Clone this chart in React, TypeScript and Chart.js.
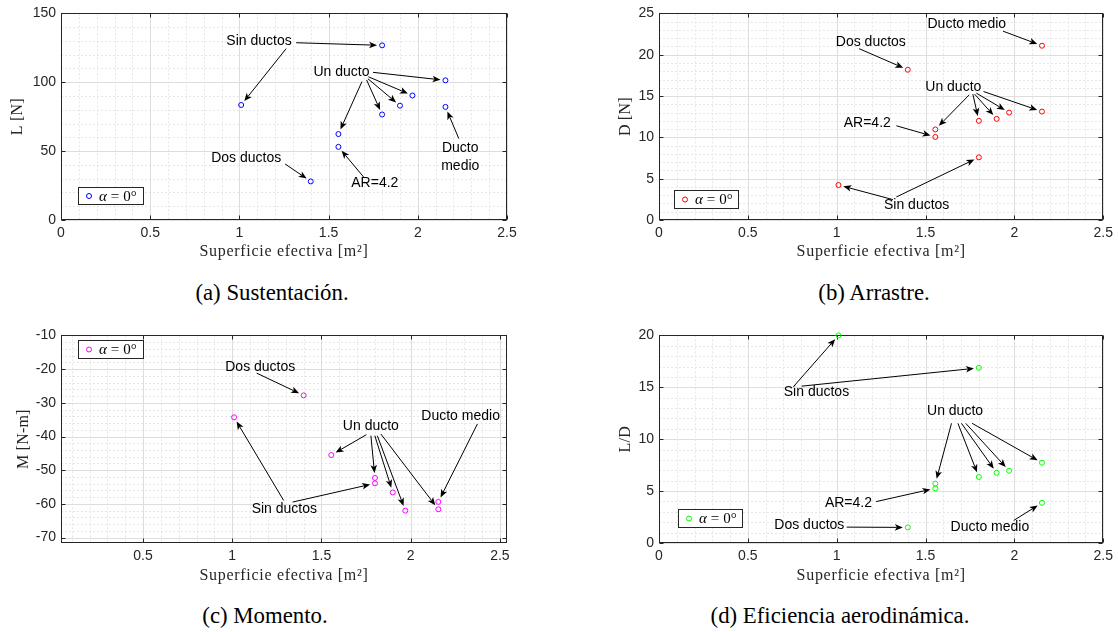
import React, { useEffect, useRef } from 'react';
import { Chart, registerables } from 'chart.js';

Chart.register(...registerables);

// Configuraciones ensayadas (alpha = 0°)
const configuracion = [
  'Sin ductos', 'Sin ductos', 'Un ducto', 'Un ducto', 'Un ducto',
  'Un ducto', 'Un ducto', 'Dos ductos', 'Ducto medio', 'AR=4.2',
];
// Superficie efectiva [m²]
const superficie = [1.01, 1.8, 1.555, 1.8, 1.9, 1.97, 2.155, 1.4, 2.155, 1.555];
// Sustentación L [N]
const sustentacion = [83.5, 126.8, 62.4, 76.6, 83.0, 90.4, 101.4, 28.0, 82.1, 53.1];
// Arrastre D [N]
const arrastre = [4.23, 7.58, 10.96, 12.0, 12.24, 13.0, 13.12, 18.18, 21.09, 10.05];
// Momento M [N-m] (sin medición para AR=4.2)
const momento = [-34.3, -53.9, -45.5, -52.3, -56.6, -62.0, -61.6, -27.8, -59.4, null];
// Eficiencia aerodinámica L/D
const eficiencia = [20.0, 16.87, 5.72, 6.36, 6.77, 6.96, 7.73, 1.5, 3.87, 5.27];

// Marcas de los ejes
const ticksX = [0, 0.5, 1, 1.5, 2, 2.5];
const ticksXMomento = [0.5, 1, 1.5, 2, 2.5];
const ticksL = [0, 50, 100, 150];
const ticksD = [0, 5, 10, 15, 20, 25];
const ticksM = [-70, -60, -50, -40, -30, -20, -10];
const ticksLD = [0, 5, 10, 15, 20];

const tituloX = 'Superficie efectiva [m²]';

type Flecha = { desde: [number, number]; punto: number };
type Nota = { texto: string[]; pos: [number, number]; flechas: Flecha[] };

// Anotaciones: texto en coordenadas de datos y flechas hacia cada punto
const notasSustentacion: Nota[] = [
  { texto: ['Sin ductos'], pos: [1.11, 129.7], flechas: [
    { desde: [1.318, 128.7], punto: 1 }, { desde: [1.262, 124.4], punto: 0 } ] },
  { texto: ['Un ducto'], pos: [1.572, 107.7], flechas: [
    { desde: [1.749, 107.2], punto: 6 }, { desde: [1.723, 104.0], punto: 5 },
    { desde: [1.72, 102.6], punto: 4 }, { desde: [1.713, 101.7], punto: 3 },
    { desde: [1.687, 100.5], punto: 2 } ] },
  { texto: ['Ducto', 'medio'], pos: [2.238, 45.8], flechas: [{ desde: [2.23, 59.1], punto: 8 }] },
  { texto: ['AR=4.2'], pos: [1.759, 26.6], flechas: [{ desde: [1.697, 31.1], punto: 9 }] },
  { texto: ['Dos ductos'], pos: [1.038, 45.0], flechas: [{ desde: [1.256, 40.7], punto: 7 }] },
];

const notasArrastre: Nota[] = [
  { texto: ['Ducto medio'], pos: [1.732, 23.64], flechas: [{ desde: [1.936, 22.85], punto: 8 }] },
  { texto: ['Dos ductos'], pos: [1.192, 21.49], flechas: [{ desde: [1.126, 20.73], punto: 7 }] },
  { texto: ['Un ducto'], pos: [1.656, 16.07], flechas: [
    { desde: [1.826, 15.55], punto: 6 }, { desde: [1.786, 15.35], punto: 5 },
    { desde: [1.776, 15.23], punto: 4 }, { desde: [1.766, 15.23], punto: 3 },
    { desde: [1.746, 15.15], punto: 2 } ] },
  { texto: ['AR=4.2'], pos: [1.172, 11.68], flechas: [{ desde: [1.336, 11.4], punto: 9 }] },
  { texto: ['Sin ductos'], pos: [1.45, 1.83], flechas: [
    { desde: [1.316, 2.47], punto: 0 }, { desde: [1.336, 2.79], punto: 1 } ] },
];

const notasMomento: Nota[] = [
  { texto: ['Dos ductos'], pos: [1.157, -19.56], flechas: [{ desde: [1.137, -21.2], punto: 7 }] },
  { texto: ['Sin ductos'], pos: [1.292, -61.7], flechas: [
    { desde: [1.288, -58.97], punto: 0 }, { desde: [1.338, -59.46], punto: 1 } ] },
  { texto: ['Un ducto'], pos: [1.777, -36.9], flechas: [
    { desde: [1.752, -39.46], punto: 2 }, { desde: [1.777, -39.75], punto: 3 },
    { desde: [1.799, -39.75], punto: 4 }, { desde: [1.813, -39.75], punto: 5 },
    { desde: [1.833, -39.26], punto: 6 } ] },
  { texto: ['Ducto medio'], pos: [2.28, -34.04], flechas: [{ desde: [2.374, -36.3], punto: 8 }] },
];

const notasEficiencia: Nota[] = [
  { texto: ['Sin ductos'], pos: [0.886, 14.5], flechas: [
    { desde: [0.756, 15.05], punto: 0 }, { desde: [0.802, 15.11], punto: 1 } ] },
  { texto: ['Un ducto'], pos: [1.666, 12.72], flechas: [
    { desde: [1.646, 11.53], punto: 2 }, { desde: [1.682, 11.53], punto: 3 },
    { desde: [1.702, 11.53], punto: 4 }, { desde: [1.726, 11.53], punto: 5 },
    { desde: [1.762, 11.53], punto: 6 } ] },
  { texto: ['AR=4.2'], pos: [1.066, 3.83], flechas: [{ desde: [1.222, 3.99], punto: 9 }] },
  { texto: ['Dos ductos'], pos: [0.846, 1.76], flechas: [{ desde: [1.056, 1.53], punto: 7 }] },
  { texto: ['Ducto medio'], pos: [1.862, 1.53], flechas: [{ desde: [1.996, 2.17], punto: 8 }] },
];

const SANS = '"Liberation Sans", Arial, Helvetica, sans-serif';
const SERIF = '"Liberation Serif", "Times New Roman", serif';
const EJE = '#262626';

type Panel = {
  valores: (number | null)[];
  color: string;
  yTitulo: string;
  x: { min: number; max: number; ticks: number[]; menor: number };
  y: { min: number; max: number; ticks: number[]; menor: number };
  notas: Nota[];
  lienzo: { x: number; y: number; w: number; h: number };
  area: { l: number; r: number; t: number; b: number };
  yTituloX: number;
  xTituloY: number;
  leyenda: { x: number; y: number; w: number; h: number };
};

const paneles: Panel[] = [
  {
    valores: sustentacion, color: '#0000ff', yTitulo: 'L [N]',
    x: { min: 0, max: 2.5, ticks: ticksX, menor: 0.1 },
    y: { min: 0, max: 150, ticks: ticksL, menor: 10 },
    notas: notasSustentacion,
    lienzo: { x: 0, y: 0, w: 559, h: 264 },
    area: { l: 61, r: 507, t: 11, b: 220 },
    yTituloX: 18, xTituloY: 252,
    leyenda: { x: 78, y: 187, w: 66, h: 18 },
  },
  {
    valores: arrastre, color: '#ff0000', yTitulo: 'D [N]',
    x: { min: 0, max: 2.5, ticks: ticksX, menor: 0.1 },
    y: { min: 0, max: 25, ticks: ticksD, menor: 1 },
    notas: notasArrastre,
    lienzo: { x: 559, y: 0, w: 559, h: 264 },
    area: { l: 659, r: 1104, t: 11, b: 220 },
    yTituloX: 626, xTituloY: 252,
    leyenda: { x: 674, y: 190, w: 65, h: 19 },
  },
  {
    valores: momento, color: '#ff00ff', yTitulo: 'M [N-m]',
    x: { min: 0.04, max: 2.54, ticks: ticksXMomento, menor: 0.1 },
    y: { min: -71.6, max: -10, ticks: ticksM, menor: 2 },
    notas: notasMomento,
    lienzo: { x: 0, y: 322, w: 559, h: 268 },
    area: { l: 61, r: 507, t: 334, b: 543 },
    yTituloX: 24, xTituloY: 576,
    leyenda: { x: 78, y: 340, w: 66, h: 19 },
  },
  {
    valores: eficiencia, color: '#00ff00', yTitulo: 'L/D',
    x: { min: 0, max: 2.5, ticks: ticksX, menor: 0.1 },
    y: { min: 0, max: 20, ticks: ticksLD, menor: 1 },
    notas: notasEficiencia,
    lienzo: { x: 559, y: 322, w: 559, h: 268 },
    area: { l: 659, r: 1104, t: 334, b: 543 },
    yTituloX: 626, xTituloY: 576,
    leyenda: { x: 678, y: 509, w: 65, h: 19 },
  },
];

const subtitulos = [
  { texto: '(a) Sustentación.', x: 272, y: 292 },
  { texto: '(b) Arrastre.', x: 874, y: 292 },
  { texto: '(c) Momento.', x: 265, y: 615 },
  { texto: '(d) Eficiencia aerodinámica.', x: 840, y: 615 },
];

function valoresMenores(min: number, max: number, paso: number, mayores: number[]) {
  const out: number[] = [];
  for (let k = Math.ceil(min / paso - 1e-9); k * paso <= max + 1e-9; k++) {
    const v = k * paso;
    if (!mayores.some((m) => Math.abs(m - v) < paso / 100)) out.push(v);
  }
  return out;
}

function dibujarFlecha(ctx: CanvasRenderingContext2D, x0: number, y0: number, x1: number, y1: number) {
  const ang = Math.atan2(y1 - y0, x1 - x0);
  const c = Math.cos(ang);
  const s = Math.sin(ang);
  const tx = x1 - c * 5;
  const ty = y1 - s * 5;
  const largo = 8;
  const ancho = 3.3;
  const bx = tx - c * largo;
  const by = ty - s * largo;
  ctx.beginPath();
  ctx.moveTo(x0, y0);
  ctx.lineTo(bx + c * 2, by + s * 2);
  ctx.stroke();
  ctx.beginPath();
  ctx.moveTo(tx, ty);
  ctx.lineTo(bx - s * ancho, by + c * ancho);
  ctx.lineTo(bx + c * 2, by + s * 2);
  ctx.lineTo(bx + s * ancho, by - c * ancho);
  ctx.closePath();
  ctx.fill();
}

function crearTrazado(p: Panel) {
  return {
    id: 'trazado',
    beforeDatasetsDraw(chart: any) {
      const { ctx, chartArea: a } = chart;
      const sx = chart.scales.x;
      const sy = chart.scales.y;
      ctx.save();
      ctx.lineWidth = 1;
      // rejilla menor punteada
      ctx.strokeStyle = '#e6e6e6';
      ctx.setLineDash([2, 2]);
      for (const v of valoresMenores(p.x.min, p.x.max, p.x.menor, p.x.ticks)) {
        const px = Math.round(sx.getPixelForValue(v)) + 0.5;
        ctx.beginPath(); ctx.moveTo(px, a.top); ctx.lineTo(px, a.bottom); ctx.stroke();
      }
      for (const v of valoresMenores(p.y.min, p.y.max, p.y.menor, p.y.ticks)) {
        const py = Math.round(sy.getPixelForValue(v)) + 0.5;
        ctx.beginPath(); ctx.moveTo(a.left, py); ctx.lineTo(a.right, py); ctx.stroke();
      }
      // rejilla mayor
      ctx.setLineDash([]);
      ctx.strokeStyle = '#dedede';
      for (const v of p.x.ticks) {
        const px = Math.round(sx.getPixelForValue(v)) + 0.5;
        ctx.beginPath(); ctx.moveTo(px, a.top); ctx.lineTo(px, a.bottom); ctx.stroke();
      }
      for (const v of p.y.ticks) {
        const py = Math.round(sy.getPixelForValue(v)) + 0.5;
        ctx.beginPath(); ctx.moveTo(a.left, py); ctx.lineTo(a.right, py); ctx.stroke();
      }
      // caja y marcas hacia dentro
      ctx.strokeStyle = EJE;
      const l = Math.round(a.left) + 0.5;
      const r = Math.round(a.right) - 0.5;
      const t = Math.round(a.top) + 0.5;
      const b = Math.round(a.bottom) - 0.5;
      ctx.strokeRect(l, t, r - l, b - t);
      ctx.beginPath();
      for (const v of p.x.ticks) {
        const px = Math.round(sx.getPixelForValue(v)) + 0.5;
        ctx.moveTo(px, b); ctx.lineTo(px, b - 4);
        ctx.moveTo(px, t); ctx.lineTo(px, t + 4);
      }
      for (const v of p.y.ticks) {
        const py = Math.round(sy.getPixelForValue(v)) + 0.5;
        ctx.moveTo(l, py); ctx.lineTo(l + 4, py);
        ctx.moveTo(r, py); ctx.lineTo(r - 4, py);
      }
      ctx.stroke();
      ctx.restore();
    },
    afterDraw(chart: any) {
      const { ctx, chartArea: a } = chart;
      const sx = chart.scales.x;
      const sy = chart.scales.y;
      ctx.save();
      // títulos de los ejes
      ctx.fillStyle = EJE;
      ctx.textAlign = 'center';
      ctx.textBaseline = 'middle';
      ctx.font = `16px ${SERIF}`;
      (ctx as any).letterSpacing = '0.7px';
      ctx.fillText(tituloX, (a.left + a.right) / 2, p.xTituloY - p.lienzo.y);
      (ctx as any).letterSpacing = '0.2px';
      ctx.save();
      ctx.translate(p.yTituloX - p.lienzo.x, (a.top + a.bottom) / 2);
      ctx.rotate(-Math.PI / 2);
      ctx.fillText(p.yTitulo, 0, 0);
      ctx.restore();
      (ctx as any).letterSpacing = '0px';
      // anotaciones con flechas
      ctx.fillStyle = '#000';
      ctx.strokeStyle = '#000';
      ctx.lineWidth = 1;
      ctx.font = `14px ${SANS}`;
      for (const n of p.notas) {
        const cx = sx.getPixelForValue(n.pos[0]);
        const cy = sy.getPixelForValue(n.pos[1]);
        const alto = 17.7;
        n.texto.forEach((linea, i) => {
          ctx.fillText(linea, cx, cy + (i - (n.texto.length - 1) / 2) * alto);
        });
        for (const f of n.flechas) {
          dibujarFlecha(
            ctx,
            sx.getPixelForValue(f.desde[0]), sy.getPixelForValue(f.desde[1]),
            sx.getPixelForValue(superficie[f.punto]), sy.getPixelForValue(p.valores[f.punto] as number),
          );
        }
      }
      // leyenda
      const lx = p.leyenda.x - p.lienzo.x;
      const ly = p.leyenda.y - p.lienzo.y;
      ctx.fillStyle = '#fff';
      ctx.fillRect(lx, ly, p.leyenda.w, p.leyenda.h);
      ctx.strokeStyle = EJE;
      ctx.strokeRect(lx + 0.5, ly + 0.5, p.leyenda.w - 1, p.leyenda.h - 1);
      const my = ly + p.leyenda.h / 2;
      ctx.strokeStyle = p.color;
      ctx.beginPath();
      ctx.arc(lx + 11, my, 2.5, 0, Math.PI * 2);
      ctx.stroke();
      ctx.fillStyle = '#000';
      ctx.textAlign = 'left';
      let tx = lx + 21;
      ctx.font = `italic 15px ${SERIF}`;
      ctx.fillText('α', tx, my + 1);
      tx += ctx.measureText('α').width + 4;
      ctx.font = `15px ${SERIF}`;
      ctx.fillText('=', tx, my + 1);
      tx += ctx.measureText('=').width + 4;
      ctx.fillText('0°', tx, my + 1);
      ctx.restore();
    },
  };
}

function GraficoPanel({ p }: { p: Panel }) {
  const ref = useRef<HTMLCanvasElement>(null);
  useEffect(() => {
    const puntos = superficie
      .map((x, i) => ({ x, y: p.valores[i] }))
      .filter((d) => d.y !== null) as { x: number; y: number }[];
    const chart = new Chart(ref.current as HTMLCanvasElement, {
      type: 'scatter',
      data: {
        datasets: [
          {
            label: 'α = 0°',
            data: puntos,
            pointStyle: 'circle',
            pointRadius: 2.5,
            pointHoverRadius: 2.5,
            pointBorderWidth: 1,
            pointBorderColor: p.color,
            pointBackgroundColor: 'rgba(0,0,0,0)',
            clip: false,
          } as any,
        ],
      },
      options: {
        responsive: false,
        animation: false,
        devicePixelRatio: 1,
        events: [],
        layout: {
          padding: {
            left: 0,
            top: p.area.t - p.lienzo.y,
            right: p.lienzo.x + p.lienzo.w - p.area.r,
            bottom: 0,
          },
        },
        plugins: { legend: { display: false }, tooltip: { enabled: false } },
        scales: {
          x: {
            type: 'linear',
            min: p.x.min,
            max: p.x.max,
            afterBuildTicks: (s: any) => { s.ticks = p.x.ticks.map((v) => ({ value: v })); },
            afterFit: (s: any) => { s.height = p.lienzo.y + p.lienzo.h - p.area.b; },
            grid: { display: false, drawTicks: false },
            border: { display: false },
            ticks: {
              autoSkip: false, maxRotation: 0, padding: 5, color: EJE,
              font: { family: SANS, size: 14 },
              callback: (v: any) => String(v),
            },
            title: { display: false },
          },
          y: {
            type: 'linear',
            min: p.y.min,
            max: p.y.max,
            afterBuildTicks: (s: any) => { s.ticks = p.y.ticks.map((v) => ({ value: v })); },
            afterFit: (s: any) => { s.width = p.area.l - p.lienzo.x; },
            grid: { display: false, drawTicks: false },
            border: { display: false },
            ticks: {
              autoSkip: false, padding: 5, color: EJE,
              font: { family: SANS, size: 14 },
              callback: (v: any) => String(v),
            },
            title: { display: false },
          },
        },
      } as any,
      plugins: [crearTrazado(p)],
    });
    return () => chart.destroy();
  }, [p]);
  return (
    <canvas
      ref={ref}
      width={p.lienzo.w}
      height={p.lienzo.h}
      style={{ position: 'absolute', left: p.lienzo.x, top: p.lienzo.y }}
    />
  );
}

export default function App() {
  return (
    <div style={{ position: 'absolute', left: 0, top: 0, width: 1118, height: 632, background: '#fff', overflow: 'hidden' }}>
      {paneles.map((p, i) => (
        <GraficoPanel key={i} p={p} />
      ))}
      {subtitulos.map((s, i) => (
        <div
          key={i}
          style={{
            position: 'absolute', left: s.x, top: s.y, transform: 'translate(-50%, -50%) scaleX(0.95)',
            whiteSpace: 'nowrap', fontFamily: SERIF, fontSize: 24, color: '#000', lineHeight: 1,
          }}
        >
          {s.texto}
        </div>
      ))}
    </div>
  );
}
